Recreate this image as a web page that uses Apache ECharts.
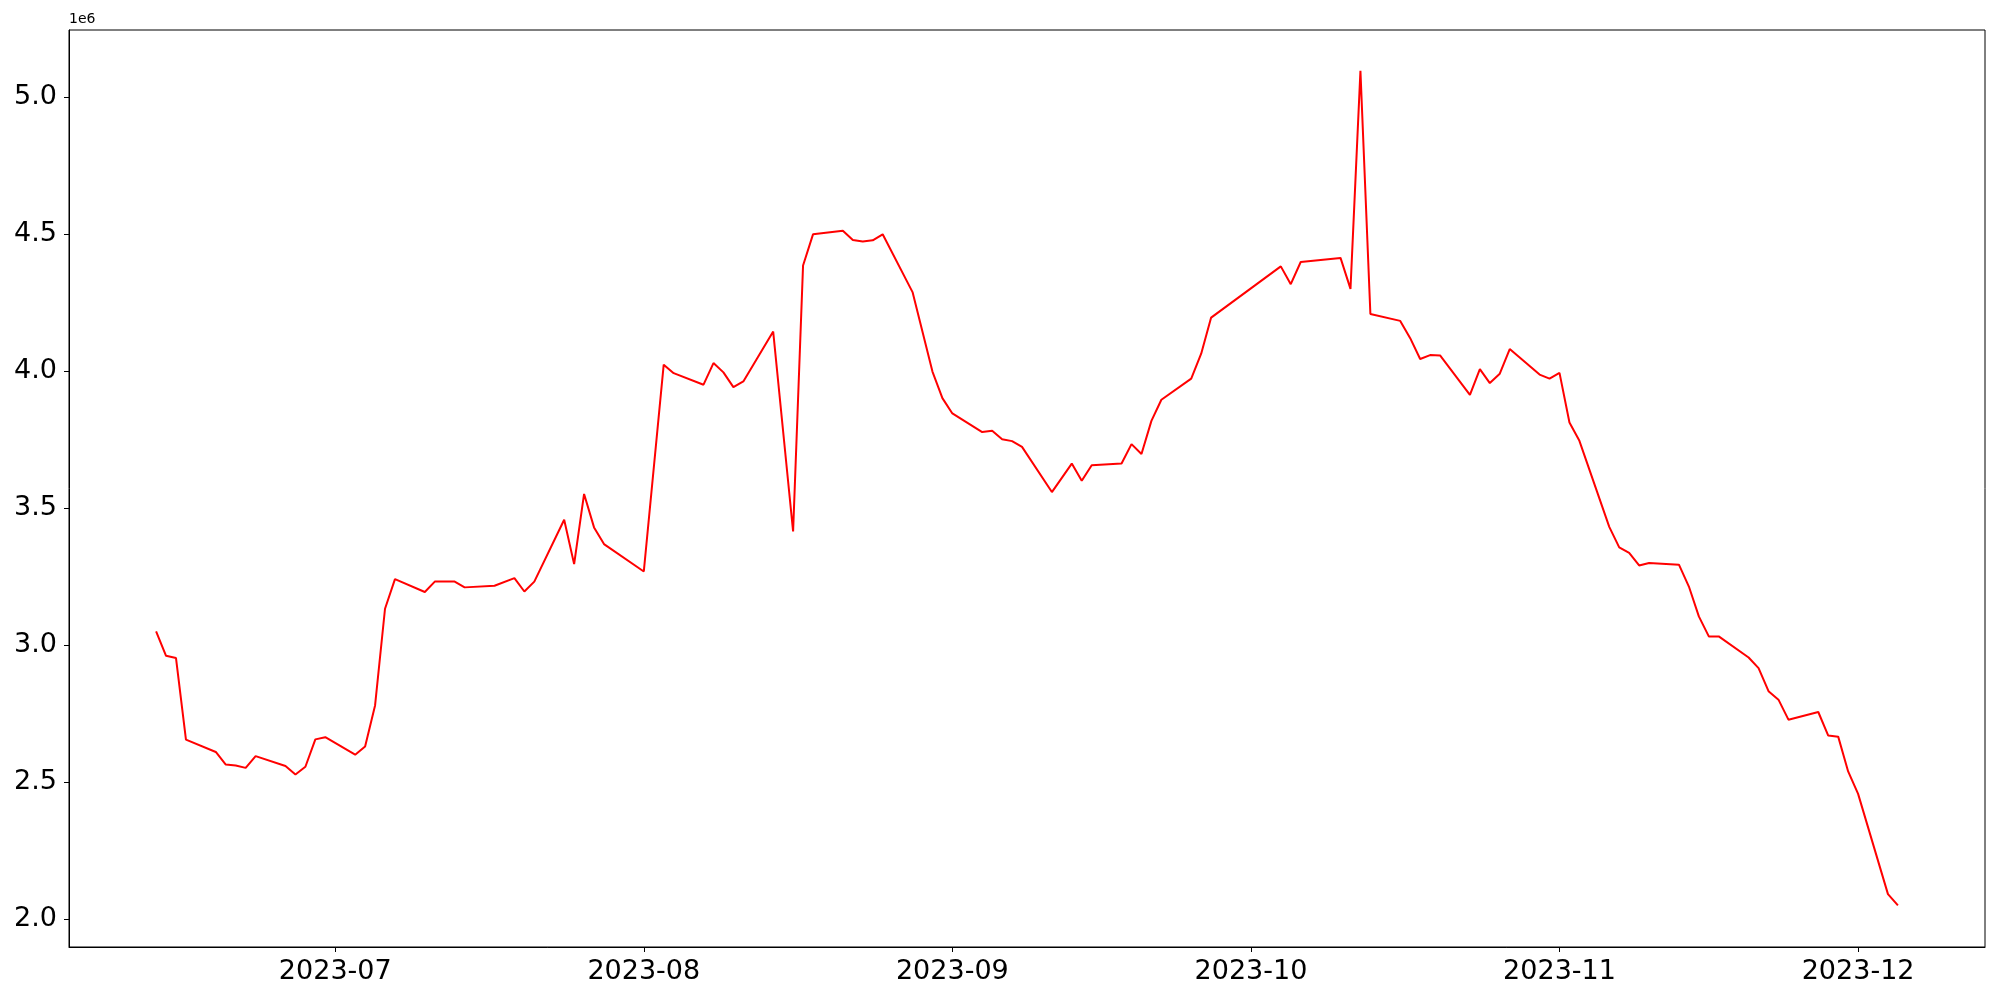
<!DOCTYPE html>
<html>
<head>
<meta charset="utf-8">
<script src="https://cdn.jsdelivr.net/npm/echarts@6/dist/echarts.min.js"></script>
<style>
  html, body { margin: 0; padding: 0; background: #fff; }
  #chart { width: 2000px; height: 1000px; }
</style>
</head>
<body>
<div id="chart"></div>
<script>
  // weekday dates that show a visible vertex in the reference
  const dates = [
    '2023-06-13', '2023-06-14', '2023-06-15', '2023-06-16', '2023-06-19', '2023-06-20',
    '2023-06-21', '2023-06-22', '2023-06-23', '2023-06-26', '2023-06-27', '2023-06-28',
    '2023-06-29', '2023-06-30', '2023-07-03', '2023-07-04', '2023-07-05', '2023-07-06',
    '2023-07-07', '2023-07-10', '2023-07-11', '2023-07-13', '2023-07-14', '2023-07-17',
    '2023-07-19', '2023-07-20', '2023-07-21', '2023-07-24', '2023-07-25', '2023-07-26',
    '2023-07-27', '2023-07-28', '2023-08-01', '2023-08-03', '2023-08-04', '2023-08-07',
    '2023-08-08', '2023-08-09', '2023-08-10', '2023-08-11', '2023-08-14', '2023-08-16',
    '2023-08-17', '2023-08-18', '2023-08-21', '2023-08-22', '2023-08-23', '2023-08-24',
    '2023-08-25', '2023-08-28', '2023-08-30', '2023-08-31', '2023-09-01', '2023-09-04',
    '2023-09-05', '2023-09-06', '2023-09-07', '2023-09-08', '2023-09-11', '2023-09-13',
    '2023-09-14', '2023-09-15', '2023-09-18', '2023-09-19', '2023-09-20', '2023-09-21',
    '2023-09-22', '2023-09-25', '2023-09-26', '2023-09-27', '2023-10-04', '2023-10-05',
    '2023-10-06', '2023-10-10', '2023-10-11', '2023-10-12', '2023-10-13', '2023-10-16',
    '2023-10-17', '2023-10-18', '2023-10-19', '2023-10-20', '2023-10-23', '2023-10-24',
    '2023-10-25', '2023-10-26', '2023-10-27', '2023-10-30', '2023-10-31', '2023-11-01',
    '2023-11-02', '2023-11-03', '2023-11-06', '2023-11-07', '2023-11-08', '2023-11-09',
    '2023-11-10', '2023-11-13', '2023-11-14', '2023-11-15', '2023-11-16', '2023-11-17',
    '2023-11-20', '2023-11-21', '2023-11-22', '2023-11-23', '2023-11-24', '2023-11-27',
    '2023-11-28', '2023-11-29', '2023-11-30', '2023-12-01', '2023-12-04', '2023-12-05'
  ];

  // values in millions (axis offset label "1e6")
  const values = [
    3.050, 2.961, 2.953, 2.655, 2.610, 2.564,
    2.561, 2.552, 2.595, 2.559, 2.528, 2.556,
    2.656, 2.664, 2.600, 2.630, 2.780, 3.133,
    3.241, 3.194, 3.232, 3.232, 3.211, 3.217,
    3.245, 3.196, 3.232, 3.458, 3.296, 3.552,
    3.430, 3.369, 3.269, 4.024, 3.993, 3.951,
    4.030, 3.996, 3.942, 3.963, 4.145, 3.415,
    4.386, 4.500, 4.513, 4.479, 4.474, 4.478,
    4.500, 4.289, 3.999, 3.902, 3.846, 3.778,
    3.783, 3.752, 3.745, 3.724, 3.559, 3.663,
    3.600, 3.657, 3.663, 3.734, 3.698, 3.819,
    3.896, 3.973, 4.064, 4.196, 4.383, 4.318,
    4.399, 4.414, 4.301, 5.097, 4.209, 4.184,
    4.121, 4.045, 4.059, 4.058, 3.914, 4.008,
    3.957, 3.991, 4.081, 3.988, 3.973, 3.994,
    3.813, 3.746, 3.432, 3.357, 3.337, 3.291,
    3.300, 3.294, 3.214, 3.105, 3.032, 3.032,
    2.955, 2.916, 2.832, 2.801, 2.728, 2.756,
    2.670, 2.666, 2.539, 2.457, 2.091, 2.050
  ];

  const monthTicks = ['2023-07-01', '2023-08-01', '2023-09-01', '2023-10-01', '2023-11-01', '2023-12-01'];
  const yTicks = [2.0, 2.5, 3.0, 3.5, 4.0, 4.5, 5.0];

  const fontFamily = 'DejaVu Sans';
  const toTime = d => echarts.time.parse(d).getTime();
  const monthTickTimes = monthTicks.map(toTime);
  const xMin = new Date(2023, 5, 4, 6).getTime();
  const xMax = new Date(2023, 11, 13, 18).getTime();

  const chart = echarts.init(document.getElementById('chart'));
  chart.setOption({
    animation: false,
    backgroundColor: '#fff',
    grid: {
      left: 69,
      right: 15,
      top: 30,
      bottom: 53,
      show: true,
      borderColor: '#000',
      borderWidth: 1,
      backgroundColor: 'transparent',
      containLabel: false,
      outerBoundsMode: 'none',
    },
    xAxis: {
      type: 'value',
      min: xMin,
      max: xMax,
      scale: true,
      splitLine: { show: false },
      axisLine: { show: true, lineStyle: { color: '#000', width: 1 } },
      axisTick: {
        show: true,
        length: 5,
        lineStyle: { color: '#000', width: 1 },
        customValues: monthTickTimes,
      },
      axisLabel: {
        customValues: monthTickTimes,
        formatter: (value) => {
          const d = new Date(value);
          const m = d.getMonth() + 1;
          return d.getFullYear() + '-' + (m < 10 ? '0' + m : m);
        },
        color: '#000',
        fontSize: 27,
        fontFamily,
        margin: 11,
      },
    },
    yAxis: {
      type: 'value',
      min: 1.898,
      max: 5.246,
      name: '1e6',
      nameLocation: 'end',
      nameGap: 4,
      nameTextStyle: {
        align: 'left',
        verticalAlign: 'bottom',
        color: '#000',
        fontSize: 14,
        fontFamily,
      },
      splitLine: { show: false },
      axisLine: { show: true, lineStyle: { color: '#000', width: 1 } },
      axisTick: {
        show: true,
        length: 5,
        lineStyle: { color: '#000', width: 1 },
        customValues: yTicks,
      },
      axisLabel: {
        customValues: yTicks,
        formatter: value => value.toFixed(1),
        color: '#000',
        fontSize: 27,
        fontFamily,
        margin: 12,
      },
    },
    series: [
      {
        type: 'line',
        data: dates.map((d, i) => [toTime(d), values[i]]),
        showSymbol: false,
        symbol: 'none',
        lineStyle: { color: '#ff0000', width: 2 },
        itemStyle: { color: '#ff0000' },
        emphasis: { disabled: true },
      },
    ],
  });
</script>
</body>
</html>
